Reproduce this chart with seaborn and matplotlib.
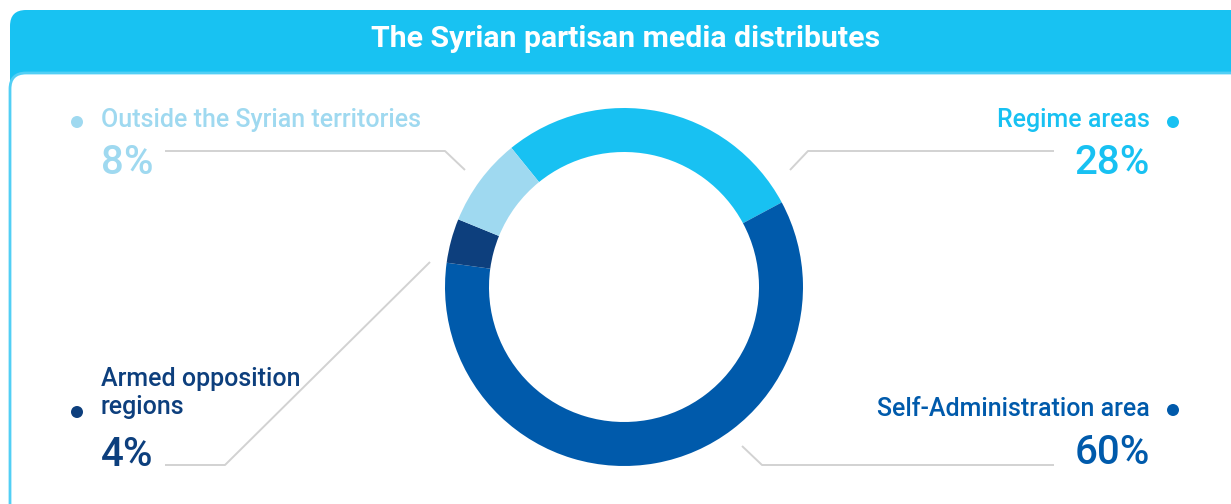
import matplotlib
matplotlib.use("Agg")
import matplotlib.pyplot as plt
from matplotlib.patches import FancyBboxPatch, Circle
import seaborn as sns

# Distribution of Syrian partisan media by area (percent)
categories = ["Regime areas", "Self-Administration area",
              "Armed opposition\nregions", "Outside the Syrian territories"]
shares = [28, 60, 4, 8]
palette = ["#18c1f2", "#005aab", "#0d3f7d", "#9fd9f0"]
title = "The Syrian partisan media distributes"

W, H = 1231, 504
sns.set_theme(style="white")
plt.rcParams["font.family"] = ["Roboto", "DejaVu Sans"]

fig = plt.figure(figsize=(W / 100, H / 100), dpi=100)
ax = fig.add_axes([0, 0, 1, 1])


def Y(y):
    # top-down pixel rows to axis units
    return H - y


# header banner and card
ax.add_patch(FancyBboxPatch((10, Y(100)), 1260, 90,
                            boxstyle="round,pad=0,rounding_size=16",
                            fc="#18c2f2", ec="none", zorder=1))
ax.add_patch(FancyBboxPatch((10, Y(560)), 1260, 487,
                            boxstyle="round,pad=0,rounding_size=16",
                            fc="white", ec="#52cff5", lw=2, zorder=2))
ax.text(626, Y(39), title, color="white", fontsize=21.8, fontweight="bold",
        ha="center", va="center", zorder=3)

# donut
cx, cy, r_out, ring = 624, 287, 179, 44
ax.pie(shares, colors=palette, startangle=129, counterclock=False,
       radius=r_out, center=(cx, Y(cy)), frame=True,
       wedgeprops=dict(width=ring, edgecolor="none", zorder=4))

# leader lines
line_kw = dict(color="#d2d2d2", lw=1.4, zorder=3, solid_capstyle="butt")
ax.plot([165, 445, 465], [Y(151), Y(151), Y(170)], **line_kw)
ax.plot([1054, 808, 790], [Y(151), Y(151), Y(170)], **line_kw)
ax.plot([165, 225, 430], [Y(465), Y(465), Y(262)], **line_kw)
ax.plot([1054, 762, 742], [Y(465), Y(465), Y(446)], **line_kw)

# labels: (category index, x, ha, label y, value y, dot x, dot y)
layout = [
    (0, 1150, "right", 120, 163, 1173, 122),
    (1, 1150, "right", 409, 453, 1173, 410),
    (2, 101, "left", 393, 455, 77, 412),
    (3, 101, "left", 120, 163, 77, 122),
]
for i, x, ha, ly, vy, dx, dy in layout:
    col = palette[i]
    ax.text(x, Y(ly), categories[i], color=col, fontsize=18,
            fontweight="medium", ha=ha, va="center", linespacing=1.2,
            zorder=5)
    ax.text(x, Y(vy), f"{shares[i]}%", color=col, fontsize=29,
            fontweight="medium", ha=ha, va="center", zorder=5)
    ax.add_patch(Circle((dx, Y(dy)), 6, fc=col, ec="none", zorder=5))

ax.set_xlim(0, W)
ax.set_ylim(0, H)
ax.set_aspect("equal")
ax.axis("off")
fig.savefig("out.png", dpi=100, facecolor="white")
